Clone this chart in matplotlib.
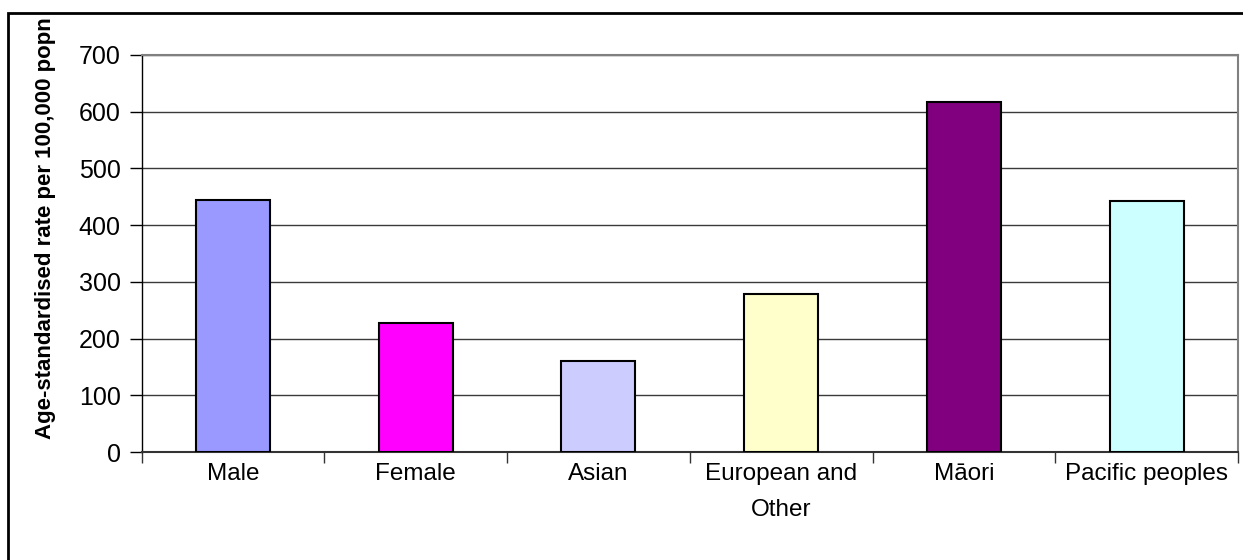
import matplotlib
matplotlib.use("Agg")
import matplotlib.pyplot as plt
from matplotlib.patches import Rectangle

categories = ["Male", "Female", "Asian", "European and\nOther", "Māori", "Pacific peoples"]
values = [444, 228, 160, 278, 617, 442]
colors = ["#9999FF", "#FF00FF", "#CCCCFF", "#FFFFCC", "#800080", "#CCFFFF"]
yticks = [0, 100, 200, 300, 400, 500, 600, 700]
ylabel = "Age-standardised rate per 100,000 popn"

plt.rcParams['font.family'] = ['Liberation Sans', 'DejaVu Sans']

W, H = 1243, 560
fig = plt.figure(figsize=(W / 100, H / 100), dpi=100)
ax = fig.add_axes([141.5 / W, (H - 452) / H, (1238 - 141.5) / W, (452 - 55) / H])

x = list(range(len(categories)))
ax.bar(x, values, width=0.405, color=colors, edgecolor="black", linewidth=1.5, zorder=3)

ax.set_xlim(-0.5, len(categories) - 0.5)
ax.set_ylim(0, 700)
ax.set_yticks(yticks)
ax.set_yticklabels([str(v) for v in yticks], fontsize=18)
ax.grid(axis="y", color="#3a3a3a", linewidth=1.0, zorder=1)

ax.set_xticks([i + 0.5 for i in x[:-1]] + [-0.5, len(categories) - 0.5], minor=False)
ax.set_xticklabels([])
ax.set_xticks(x, minor=True)
ax.set_xticklabels(categories, minor=True, fontsize=17.5, linespacing=1.8)
ax.tick_params(axis="x", which="minor", length=0, pad=8)
ax.tick_params(axis="x", which="major", length=8, width=1, color="#333333", direction="out")
ax.tick_params(axis="y", length=9, width=1, direction="out", pad=6)

for s in ["top", "right"]:
    ax.spines[s].set_color("#808080")
    ax.spines[s].set_linewidth(1.5)
ax.spines["left"].set_color("black")
ax.spines["bottom"].set_color("#333333")
ax.spines["left"].set_linewidth(1)
ax.spines["bottom"].set_linewidth(1.5)

ax.set_ylabel(ylabel, fontsize=16, fontweight="bold")
ax.yaxis.set_label_coords(-(141.5 - 56) / (1238 - 141.5), (452 - 228) / (452 - 55))

frame = Rectangle((8 / W, -0.1), 1.2, 1 - 13 / H + 0.1, transform=fig.transFigure,
                  fill=False, edgecolor="black", linewidth=2, clip_on=False)
fig.patches.append(frame)

fig.savefig("out.png", dpi=100, facecolor="white")
